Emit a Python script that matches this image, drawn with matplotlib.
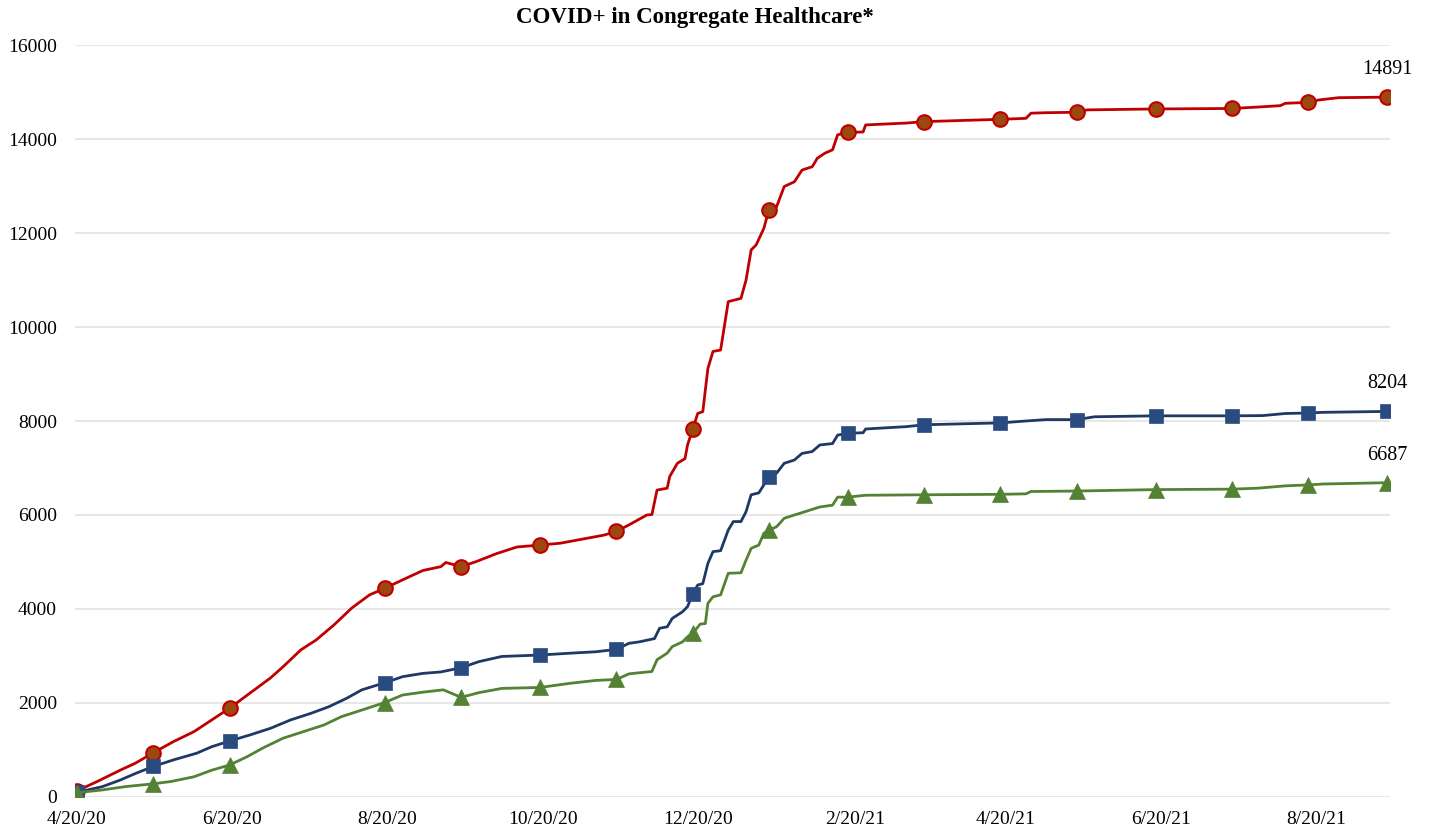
import matplotlib
matplotlib.use("Agg")
import matplotlib.pyplot as plt
import numpy as np
import pandas as pd

# days counted from 4/20/20
start = pd.Timestamp("2020-04-20")

red_days = [0, 8, 17, 23, 30, 38, 46, 53, 60, 68, 76, 81, 88, 94, 101, 108, 115, 121,
            128, 136, 143, 145, 151, 157, 165, 173, 182, 190, 200, 207, 212, 217, 224,
            226, 228, 232, 233, 236, 239, 240, 242, 244, 246, 248, 250, 253, 256, 261,
            263, 265, 267, 270, 272, 275, 278, 282, 285, 289, 291, 294, 297, 299, 303,
            309, 310, 326, 333, 363, 373, 375, 381, 393, 397, 424, 454, 464, 473, 475,
            484, 488, 496, 515]
red_vals = [130, 330, 570, 720, 940, 1180, 1390, 1640, 1890, 2210, 2530, 2770, 3130,
            3340, 3660, 4020, 4300, 4440, 4620, 4820, 4900, 4990, 4900, 5010, 5180, 5320,
            5360, 5400, 5500, 5570, 5650, 5790, 6000, 6010, 6530, 6570, 6820, 7100, 7200,
            7490, 7820, 8160, 8200, 9120, 9480, 9510, 10540, 10610, 11000, 11640, 11750,
            12100, 12500, 12560, 12990, 13090, 13340, 13410, 13590, 13700, 13770, 14090,
            14140, 14150, 14300, 14340, 14370, 14420, 14440, 14550, 14560, 14570, 14620,
            14640, 14650, 14680, 14710, 14760, 14780, 14830, 14880, 14891]

blue_days = [0, 10, 17, 23, 30, 38, 47, 53, 60, 68, 76, 84, 92, 99, 106, 112, 121, 128,
             136, 143, 151, 158, 167, 182, 194, 204, 212, 217, 221, 227, 229, 232, 234,
             238, 240, 242, 244, 246, 248, 250, 253, 256, 258, 261, 263, 265, 268, 270,
             272, 275, 278, 282, 285, 289, 292, 297, 299, 303, 309, 310, 326, 333, 363,
             373, 381, 393, 400, 424, 454, 466, 475, 484, 490, 515]
blue_vals = [100, 220, 360, 500, 650, 790, 930, 1070, 1190, 1320, 1460, 1640, 1780, 1920,
             2100, 2280, 2430, 2560, 2630, 2660, 2750, 2880, 2990, 3020, 3060, 3090, 3140,
             3270, 3300, 3370, 3590, 3620, 3800, 3940, 4050, 4320, 4510, 4540, 4970, 5220,
             5240, 5680, 5860, 5860, 6070, 6430, 6470, 6640, 6800, 6890, 7100, 7170, 7310,
             7350, 7490, 7520, 7700, 7740, 7750, 7830, 7880, 7920, 7960, 8000, 8030, 8030,
             8090, 8110, 8110, 8115, 8160, 8170, 8185, 8204]

green_days = [0, 10, 19, 30, 37, 46, 53, 60, 67, 73, 81, 89, 97, 104, 112, 121, 128, 136,
              144, 151, 158, 167, 182, 194, 204, 212, 217, 226, 228, 232, 234, 238, 240,
              242, 245, 247, 248, 250, 253, 256, 261, 263, 265, 268, 270, 272, 275, 278,
              282, 285, 289, 292, 297, 299, 303, 310, 333, 363, 373, 375, 393, 424, 454,
              464, 475, 484, 490, 515]
green_vals = [90, 150, 220, 280, 330, 430, 570, 680, 860, 1040, 1250, 1390, 1530, 1710,
              1850, 2010, 2170, 2230, 2280, 2120, 2220, 2310, 2330, 2420, 2480, 2500, 2620,
              2670, 2920, 3060, 3200, 3300, 3410, 3480, 3680, 3690, 4120, 4260, 4300, 4760,
              4770, 5040, 5290, 5360, 5610, 5680, 5750, 5930, 6000, 6050, 6120, 6170, 6210,
              6380, 6380, 6420, 6430, 6440, 6450, 6500, 6510, 6540, 6550, 6570, 6620, 6640,
              6660, 6687]

marker_days = [0, 30, 60, 121, 151, 182, 212, 242, 272, 303, 333, 363, 393, 424, 454,
               484, 515]

tick_labels = ["4/20/20", "6/20/20", "8/20/20", "10/20/20", "12/20/20", "2/20/21",
               "4/20/21", "6/20/21", "8/20/21"]

plt.rcParams["font.family"] = ["Liberation Serif", "DejaVu Serif"]

fig = plt.figure(figsize=(14.3, 8.34), dpi=100)
ax = fig.add_axes([0.0524, 0.0444, 0.9196, 0.9016])

series = [
    (red_days, red_vals, "#C00000", dict(marker="o", ms=10.5, mfc="#9E4811", mec="#C00000", mew=1.5)),
    (blue_days, blue_vals, "#203864", dict(marker="s", ms=10.5, mfc="#2A4B80", mec="#2A4B80", mew=0.5)),
    (green_days, green_vals, "#548235", dict(marker="^", ms=11, mfc="#548235", mec="#548235", mew=0.5)),
]

for days, vals, color, mk in series:
    dates = start + pd.to_timedelta(days, unit="D")
    idx = [i for i, d in enumerate(days) if d in marker_days]
    ax.plot(dates, vals, color=color, lw=2, markevery=idx, zorder=3, **mk)
    ax.annotate(f"{vals[-1]}", (dates[-1], vals[-1]), xytext=(0, 13),
                textcoords="offset points", ha="center", va="bottom", fontsize=14.5)

ax.set_ylim(0, 16000)
ax.set_yticks(np.arange(0, 16001, 2000))
ax.set_xlim(start - pd.Timedelta(days=0.8), start + pd.Timedelta(days=516.1))
ticks = pd.to_datetime(tick_labels, format="%m/%d/%y")
ax.set_xticks(ticks)
ax.set_xticklabels(tick_labels)

ax.grid(axis="y", color="#E3E3E3", lw=1.2)
ax.set_axisbelow(True)
for s in ax.spines.values():
    s.set_visible(False)
ax.tick_params(length=0, labelsize=14)
ax.tick_params(axis="y", pad=13)
ax.tick_params(axis="x", pad=10)

fig.text(0.4857, 0.979, "COVID+ in Congregate Healthcare*", fontsize=16.5,
         fontweight="bold", ha="center", va="center")

fig.savefig("out.png", dpi=100)
